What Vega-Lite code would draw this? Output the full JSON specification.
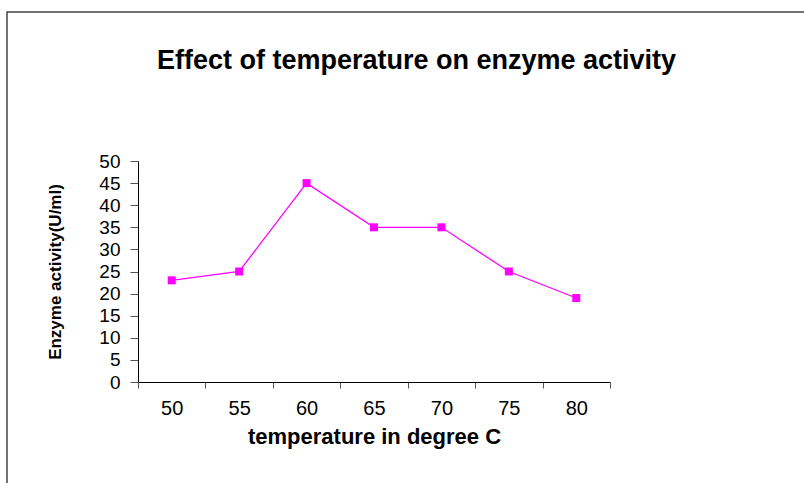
{
  "$schema": "https://vega.github.io/schema/vega-lite/v6.json",
  "autosize": "none",
  "width": 805,
  "height": 478,
  "padding": {"left": 7, "top": 12, "right": 0, "bottom": 0},
  "background": "white",
  "title": {
    "text": "Effect of temperature on enzyme activity",
    "anchor": "middle",
    "orient": "top",
    "offset": -63,
    "dx": 7,
    "font": "Liberation Sans",
    "fontSize": 27,
    "fontWeight": "bold",
    "color": "#000000"
  },
  "data": {
    "values": [
      {"temperature": 50, "activity": 23},
      {"temperature": 55, "activity": 25},
      {"temperature": 60, "activity": 45},
      {"temperature": 65, "activity": 35},
      {"temperature": 70, "activity": 35},
      {"temperature": 75, "activity": 25},
      {"temperature": 80, "activity": 19}
    ]
  },
  "encoding": {
    "x": {
      "field": "temperature",
      "type": "quantitative",
      "scale": {"domain": [47.5, 82.5], "range": [131, 603], "nice": false, "zero": false},
      "axis": {
        "orient": "bottom",
        "offset": -108,
        "values": [47.5, 52.5, 57.5, 62.5, 67.5, 72.5, 77.5, 82.5],
        "labelExpr": "datum.value < 80 ? format(datum.value + 2.5, 'd') : ''",
        "labelOffset": 33.7,
        "labelFlush": false,
        "labelOverlap": false,
        "labelFontSize": 20,
        "title": "temperature in degree C",
        "titleFontSize": 22,
        "titleFontWeight": "bold",
        "titlePadding": 8
      }
    },
    "y": {
      "field": "activity",
      "type": "quantitative",
      "scale": {"domain": [0, 50], "range": [370, 149], "nice": false, "zero": true},
      "axis": {
        "orient": "left",
        "offset": -131,
        "values": [0, 5, 10, 15, 20, 25, 30, 35, 40, 45, 50],
        "labelFontSize": 19,
        "labelFlush": false,
        "labelOverlap": false,
        "title": "Enzyme activity(U/ml)",
        "titleFontSize": 17,
        "titleFontWeight": "bold",
        "titleX": -83,
        "titleBaseline": "middle"
      }
    }
  },
  "layer": [
    {"mark": {"type": "line", "color": "#FF00FF", "strokeWidth": 1.3}},
    {"mark": {"type": "point", "shape": "square", "filled": true, "color": "#FF00FF", "opacity": 1, "size": 64}}
  ],
  "config": {
    "view": {"stroke": "#444444", "strokeWidth": 1.5},
    "font": "Liberation Sans",
    "axis": {
      "grid": false,
      "domainColor": "#000000",
      "domainWidth": 1,
      "tickColor": "#555555",
      "tickSize": 6,
      "labelFont": "Liberation Sans",
      "labelColor": "#000000",
      "titleFont": "Liberation Sans",
      "titleColor": "#000000"
    },
    "axisBottom": {"labelPadding": 10},
    "axisLeft": {"labelPadding": 10, "tickSize": 8}
  }
}
